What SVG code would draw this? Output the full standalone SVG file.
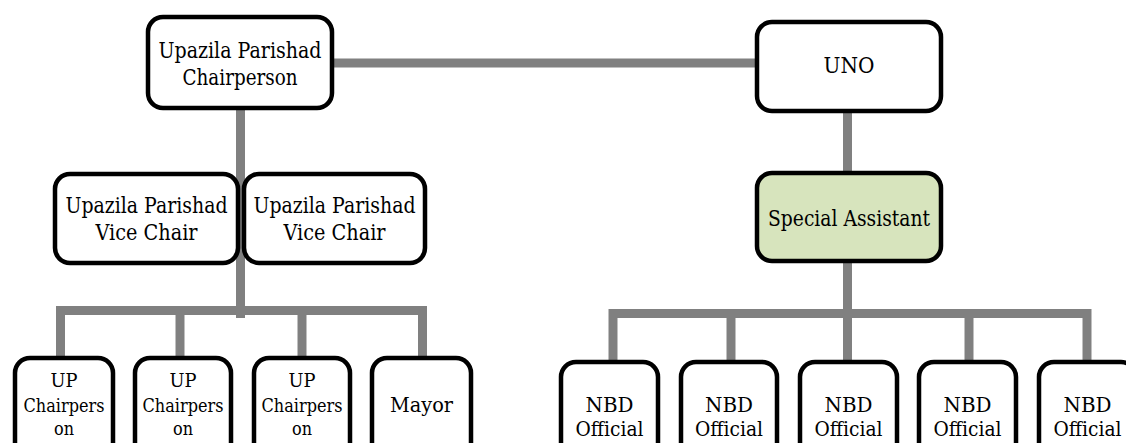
<svg xmlns="http://www.w3.org/2000/svg" width="1126" height="443" viewBox="0 0 1126 443">
<style>
.box{fill:#fff;stroke:#000;stroke-width:4.5}
.green{fill:#D7E4BD}
.c{stroke:#808080;stroke-width:9;fill:none;stroke-linecap:butt}
.t24{font-size:21.5px}
.t21{font-size:19px}
.t23{font-size:21px}
</style>
<rect width="1126" height="443" fill="#fff"/>
<g id="connectors">
<line class="c" x1="332" y1="63" x2="757" y2="63"/>
<line class="c" x1="240.5" y1="108" x2="240.5" y2="318"/>
<line class="c" x1="56.5" y1="310.5" x2="427" y2="310.5"/>
<line class="c" x1="60.5" y1="306" x2="60.5" y2="358"/>
<line class="c" x1="180" y1="306" x2="180" y2="358"/>
<line class="c" x1="302" y1="306" x2="302" y2="358"/>
<line class="c" x1="422.5" y1="306" x2="422.5" y2="358"/>
<line class="c" x1="847.5" y1="111" x2="847.5" y2="173"/>
<line class="c" x1="847.5" y1="261" x2="847.5" y2="362"/>
<line class="c" x1="609" y1="313.5" x2="1091" y2="313.5"/>
<line class="c" x1="613" y1="309" x2="613" y2="362"/>
<line class="c" x1="731" y1="309" x2="731" y2="362"/>
<line class="c" x1="969" y1="309" x2="969" y2="362"/>
<line class="c" x1="1087" y1="309" x2="1087" y2="362"/>
</g>
<g font-family="'DejaVu Serif', serif" text-anchor="middle" fill="#000" lengthAdjust="spacingAndGlyphs">
<g id="chairperson">
<rect class="box" x="148" y="17" width="184" height="91" rx="15"/>
<text class="t24" x="240" y="58" textLength="163" lengthAdjust="spacingAndGlyphs">Upazila Parishad</text>
<text class="t24" x="240" y="85" textLength="115" lengthAdjust="spacingAndGlyphs">Chairperson</text>
</g>
<g id="uno">
<rect class="box" x="757" y="22" width="184" height="89" rx="15"/>
<text class="t24" x="849" y="73" textLength="51" lengthAdjust="spacingAndGlyphs">UNO</text>
</g>
<g id="vicechair1">
<rect class="box" x="55" y="174" width="183" height="89" rx="15"/>
<text class="t24" x="146.5" y="213" textLength="162" lengthAdjust="spacingAndGlyphs">Upazila Parishad</text>
<text class="t24" x="146.5" y="240" textLength="102" lengthAdjust="spacingAndGlyphs">Vice Chair</text>
</g>
<g id="vicechair2">
<rect class="box" x="244" y="174" width="181" height="89" rx="15"/>
<text class="t24" x="334.5" y="213" textLength="162" lengthAdjust="spacingAndGlyphs">Upazila Parishad</text>
<text class="t24" x="334.5" y="240" textLength="102" lengthAdjust="spacingAndGlyphs">Vice Chair</text>
</g>
<g id="special-assistant">
<rect class="box green" x="757" y="173" width="184" height="88" rx="15"/>
<text class="t24" x="849" y="226" textLength="162" lengthAdjust="spacingAndGlyphs">Special Assistant</text>
</g>
<g id="up1">
<rect class="box" x="15" y="358" width="98" height="100" rx="15"/>
<text class="t21" x="64" y="387" textLength="27" lengthAdjust="spacingAndGlyphs">UP</text>
<text class="t21" x="64" y="412" textLength="81" lengthAdjust="spacingAndGlyphs">Chairpers</text>
<text class="t21" x="64" y="435" textLength="20" lengthAdjust="spacingAndGlyphs">on</text>
</g>
<g id="up2">
<rect class="box" x="135" y="358" width="96" height="100" rx="15"/>
<text class="t21" x="183" y="387" textLength="27" lengthAdjust="spacingAndGlyphs">UP</text>
<text class="t21" x="183" y="412" textLength="81" lengthAdjust="spacingAndGlyphs">Chairpers</text>
<text class="t21" x="183" y="435" textLength="20" lengthAdjust="spacingAndGlyphs">on</text>
</g>
<g id="up3">
<rect class="box" x="254" y="358" width="96" height="100" rx="15"/>
<text class="t21" x="302" y="387" textLength="27" lengthAdjust="spacingAndGlyphs">UP</text>
<text class="t21" x="302" y="412" textLength="81" lengthAdjust="spacingAndGlyphs">Chairpers</text>
<text class="t21" x="302" y="435" textLength="20" lengthAdjust="spacingAndGlyphs">on</text>
</g>
<g id="mayor">
<rect class="box" x="372" y="358" width="99" height="100" rx="15"/>
<text class="t23" x="421.5" y="412" textLength="63" lengthAdjust="spacingAndGlyphs">Mayor</text>
</g>
<g id="nbd1">
<rect class="box" x="561" y="362" width="97" height="100" rx="15"/>
<text class="t23" x="609.5" y="412" textLength="48" lengthAdjust="spacingAndGlyphs">NBD</text>
<text class="t23" x="609.5" y="436" textLength="68" lengthAdjust="spacingAndGlyphs">Official</text>
</g>
<g id="nbd2">
<rect class="box" x="681" y="362" width="96" height="100" rx="15"/>
<text class="t23" x="729" y="412" textLength="48" lengthAdjust="spacingAndGlyphs">NBD</text>
<text class="t23" x="729" y="436" textLength="68" lengthAdjust="spacingAndGlyphs">Official</text>
</g>
<g id="nbd3">
<rect class="box" x="800" y="362" width="97" height="100" rx="15"/>
<text class="t23" x="848.5" y="412" textLength="48" lengthAdjust="spacingAndGlyphs">NBD</text>
<text class="t23" x="848.5" y="436" textLength="68" lengthAdjust="spacingAndGlyphs">Official</text>
</g>
<g id="nbd4">
<rect class="box" x="919" y="362" width="97" height="100" rx="15"/>
<text class="t23" x="967.5" y="412" textLength="48" lengthAdjust="spacingAndGlyphs">NBD</text>
<text class="t23" x="967.5" y="436" textLength="68" lengthAdjust="spacingAndGlyphs">Official</text>
</g>
<g id="nbd5">
<rect class="box" x="1039" y="362" width="97" height="100" rx="15"/>
<text class="t23" x="1087.5" y="412" textLength="48" lengthAdjust="spacingAndGlyphs">NBD</text>
<text class="t23" x="1087.5" y="436" textLength="68" lengthAdjust="spacingAndGlyphs">Official</text>
</g>
</g>
</svg>
